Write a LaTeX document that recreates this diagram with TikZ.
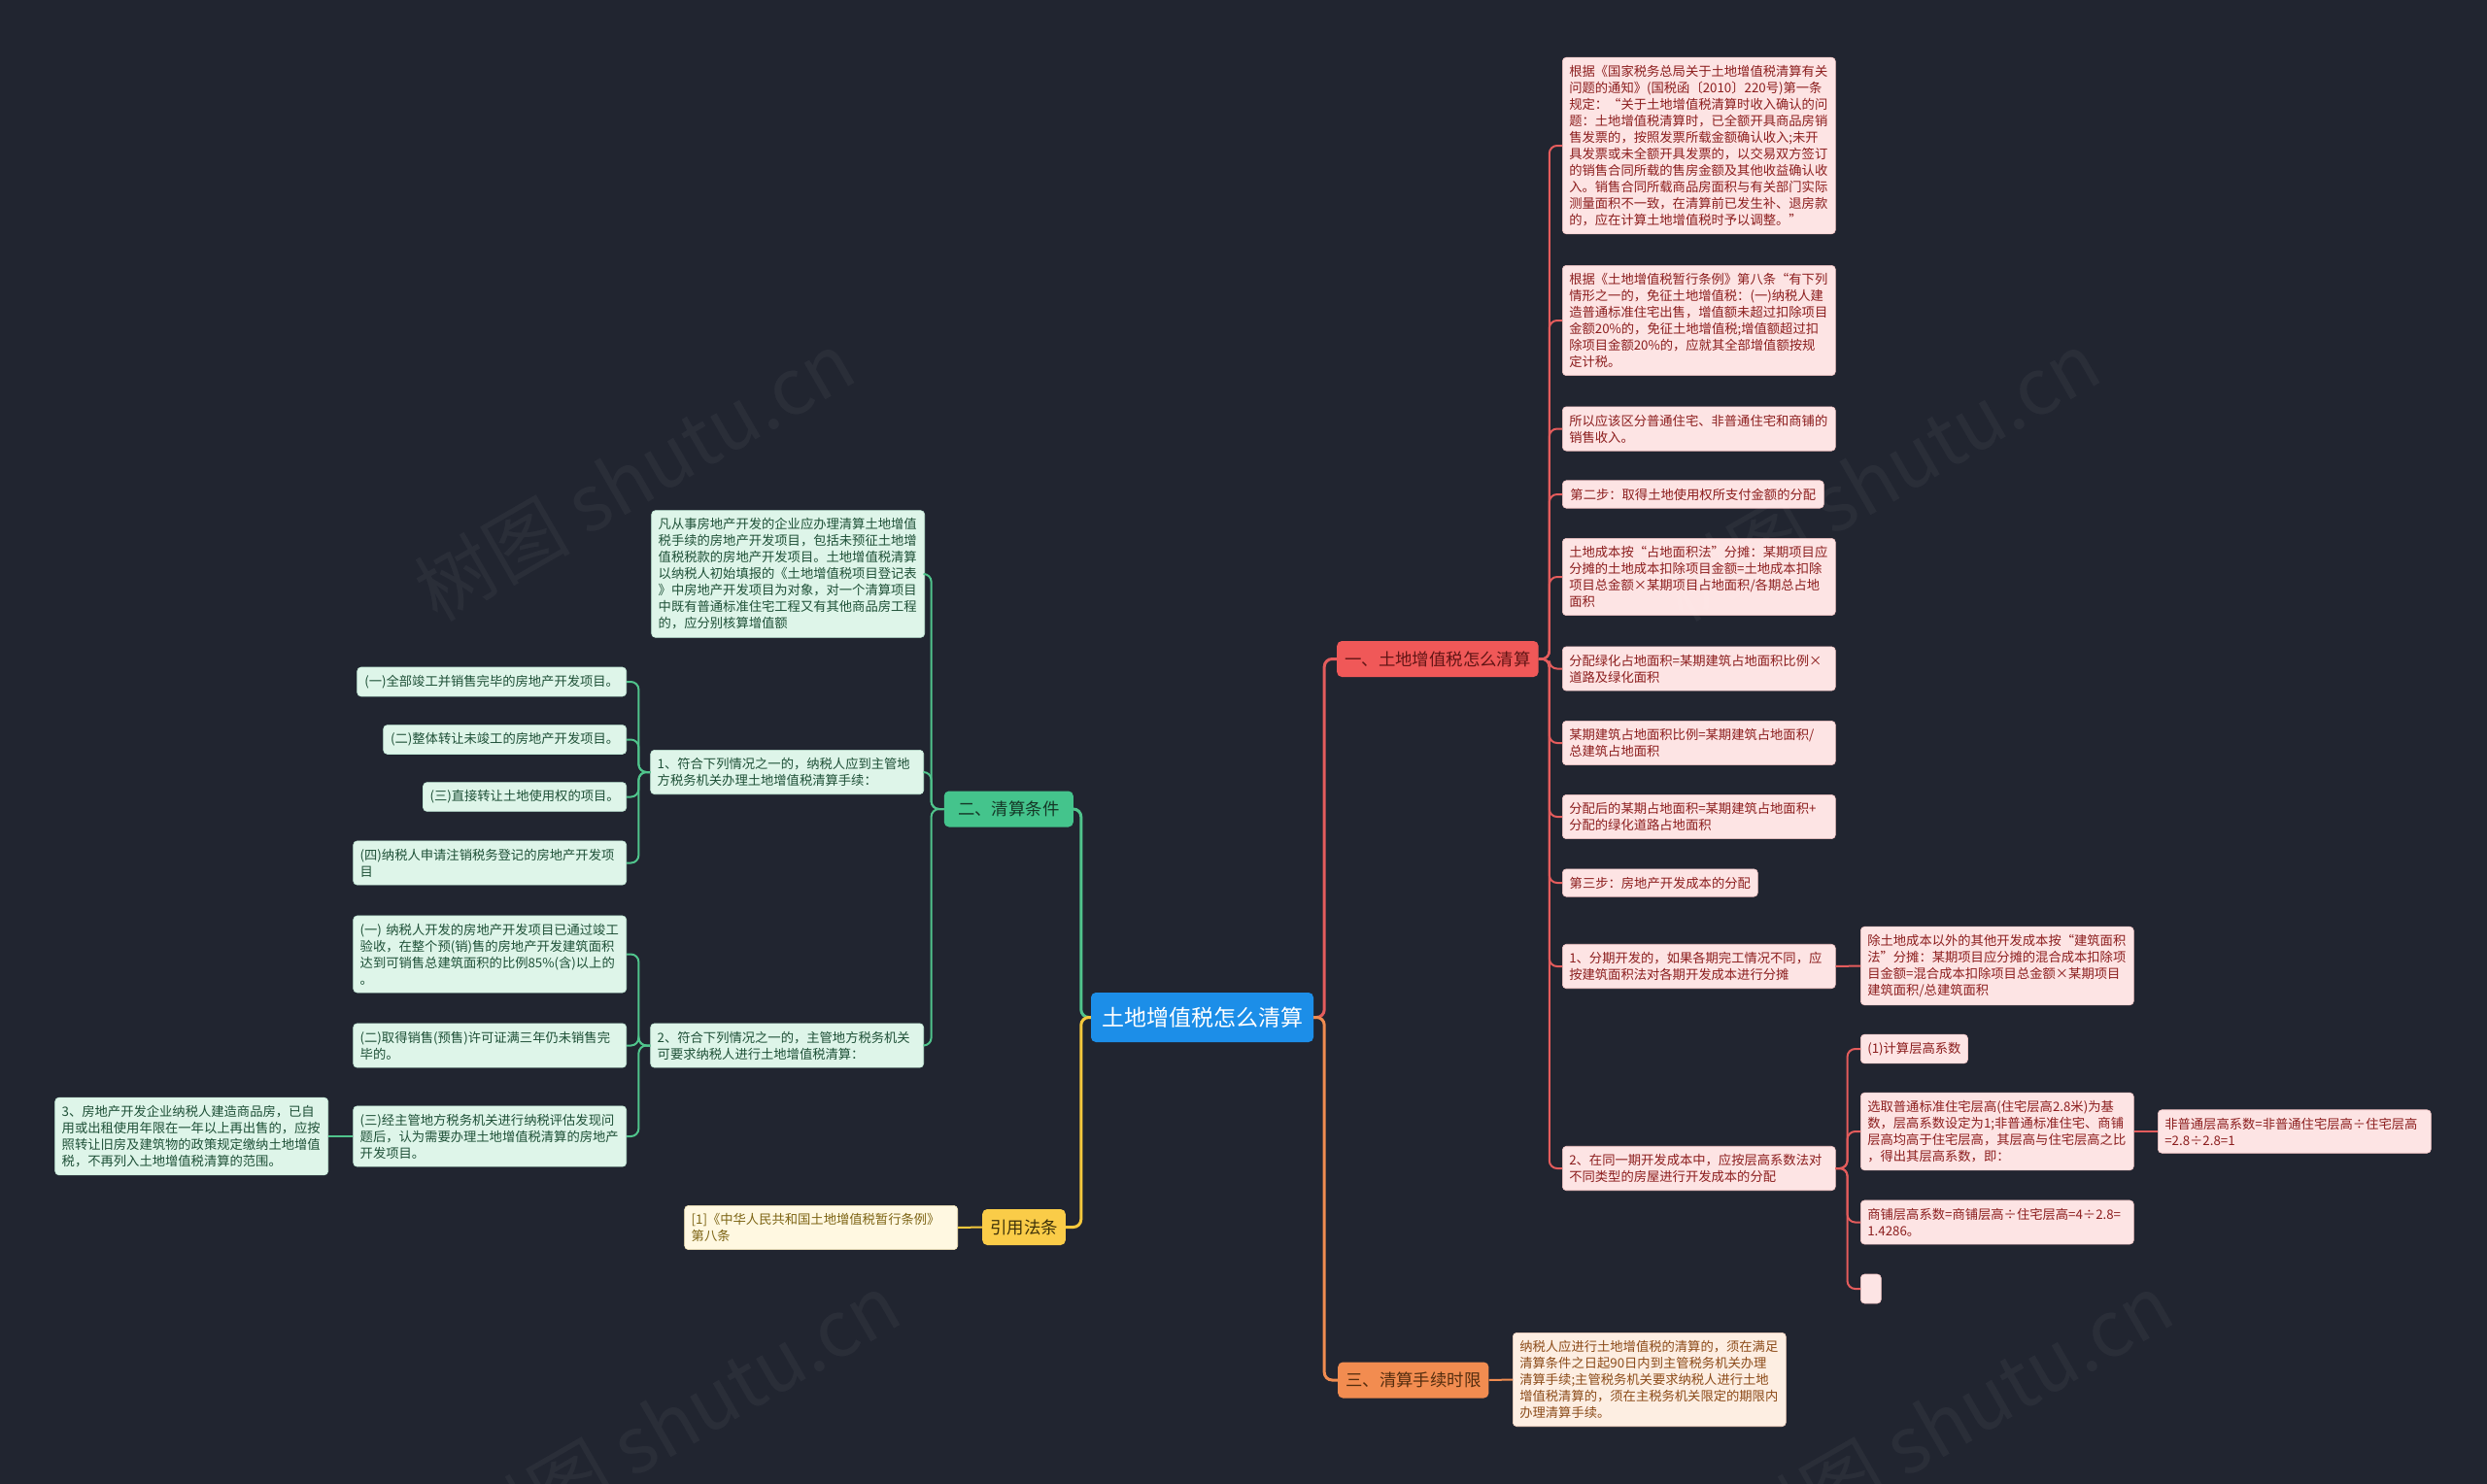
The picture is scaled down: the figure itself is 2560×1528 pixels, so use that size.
\documentclass[tikz,border=0pt]{standalone}
\usepackage{fontspec}
\setmainfont{Noto Sans CJK SC}

\definecolor{bg}{RGB}{33,37,48}
\definecolor{rootc}{RGB}{28,142,232}
\definecolor{rmain}{RGB}{240,88,88}
\definecolor{rline}{RGB}{228,92,92}
\definecolor{rfill}{RGB}{253,228,228}
\definecolor{rtext}{RGB}{140,30,30}
\definecolor{gmain}{RGB}{68,196,140}
\definecolor{gline}{RGB}{80,196,140}
\definecolor{gfill}{RGB}{222,245,233}
\definecolor{gtext}{RGB}{30,80,55}
\definecolor{ymain}{RGB}{250,204,72}
\definecolor{yline}{RGB}{245,200,60}
\definecolor{yfill}{RGB}{255,248,225}
\definecolor{ytext}{RGB}{125,100,20}
\definecolor{omain}{RGB}{242,140,80}
\definecolor{oline}{RGB}{240,140,80}
\definecolor{ofill}{RGB}{253,238,226}
\definecolor{otext}{RGB}{140,75,25}

\newcommand{\leaftxt}{\fontsize{13.3}{17}\selectfont}
\newcommand{\maintxt}{\fontsize{17.4}{20}\selectfont}

\tikzset{
  leaf/.style={rounded corners=4pt, align=left, inner xsep=7pt, inner ysep=8pt, line width=0.6pt, font=\leaftxt},
  bigleaf/.style={leaf, text width=267pt},
  redleaf/.style={fill=rfill, text=rtext, draw=rline!35},
  grnleaf/.style={fill=gfill, text=gtext, draw=gline!35},
  ylwleaf/.style={fill=yfill, text=ytext, draw=yline!35},
  orgleaf/.style={fill=ofill, text=otext, draw=oline!35},
  branch/.style={rounded corners=5pt, font=\maintxt, inner xsep=8pt, minimum height=37pt},
  redln/.style={draw=rline, line width=2pt, rounded corners=8pt},
  grnln/.style={draw=gline, line width=2pt, rounded corners=8pt},
  ylwln/.style={draw=yline, line width=2pt, rounded corners=8pt},
  orgln/.style={draw=oline, line width=2pt, rounded corners=8pt},
  mark wm/.style={rotate=30, text=white, opacity=0.045, font=\fontsize{80}{80}\selectfont}
}

\begin{document}
\begin{tikzpicture}[x=1pt, y=-1pt]
  % fond
  \fill[bg] (0,0) rectangle (2560,1528);
  \useasboundingbox (0,0) rectangle (2560,1528);

  % racine et branches
  \node[fill=rootc, text=white, rounded corners=5pt, font=\fontsize{23}{26}\selectfont,
        minimum width=229pt, minimum height=51pt] (root) at (1237.5,1047.5) {土地增值税怎么清算};
  \node[branch, fill=rmain, text=rtext!70!black, anchor=west] (red) at (1376,678.5) {一、土地增值税怎么清算};
  \node[branch, fill=omain, text=otext!60!black, anchor=west] (org) at (1377,1421) {三、清算手续时限};
  \node[branch, fill=gmain, text=gtext!70!black, anchor=east, minimum width=133pt] (grn) at (1105,833) {二、清算条件};
  \node[branch, fill=ymain, text=ytext!50!black, anchor=east] (ylw) at (1097,1263.5) {引用法条};

  % branche rouge
  \node[bigleaf, redleaf, anchor=west] (r1) at (1608,150) {根据《国家税务总局关于土地增值税清算有关\\问题的通知》(国税函〔2010〕220号)第一条\\规定：“关于土地增值税清算时收入确认的问\\题：土地增值税清算时，已全额开具商品房销\\售发票的，按照发票所载金额确认收入;未开\\具发票或未全额开具发票的，以交易双方签订\\的销售合同所载的售房金额及其他收益确认收\\入。销售合同所载商品房面积与有关部门实际\\测量面积不一致，在清算前已发生补、退房款\\的，应在计算土地增值税时予以调整。”};
  \node[bigleaf, redleaf, anchor=west] (r2) at (1608,330) {根据《土地增值税暂行条例》第八条“有下列\\情形之一的，免征土地增值税：(一)纳税人建\\造普通标准住宅出售，增值额未超过扣除项目\\金额20\%的，免征土地增值税;增值额超过扣\\除项目金额20\%的，应就其全部增值额按规\\定计税。};
  \node[bigleaf, redleaf, anchor=west] (r3) at (1608,441.5) {所以应该区分普通住宅、非普通住宅和商铺的\\销售收入。};
  \node[leaf, redleaf, anchor=west, minimum width=269pt] (r4) at (1608,509) {第二步：取得土地使用权所支付金额的分配};
  \node[bigleaf, redleaf, anchor=west] (r5) at (1608,594) {土地成本按“占地面积法”分摊：某期项目应\\分摊的土地成本扣除项目金额=土地成本扣除\\项目总金额×某期项目占地面积/各期总占地\\面积};
  \node[bigleaf, redleaf, anchor=west] (r6) at (1608,688.5) {分配绿化占地面积=某期建筑占地面积比例×\\道路及绿化面积};
  \node[bigleaf, redleaf, anchor=west] (r7) at (1608,765) {某期建筑占地面积比例=某期建筑占地面积/\\总建筑占地面积};
  \node[bigleaf, redleaf, anchor=west] (r8) at (1608,841) {分配后的某期占地面积=某期建筑占地面积+\\分配的绿化道路占地面积};
  \node[leaf, redleaf, anchor=west, minimum width=201pt] (r9) at (1608,909) {第三步：房地产开发成本的分配};
  \node[bigleaf, redleaf, anchor=west] (r10) at (1608,995) {1、分期开发的，如果各期完工情况不同，应\\按建筑面积法对各期开发成本进行分摊};
  \node[bigleaf, redleaf, anchor=west] (r11) at (1608,1203) {2、在同一期开发成本中，应按层高系数法对\\不同类型的房屋进行开发成本的分配};
  \node[bigleaf, redleaf, anchor=west] (r10a) at (1915,994.5) {除土地成本以外的其他开发成本按“建筑面积\\法”分摊：某期项目应分摊的混合成本扣除项\\目金额=混合成本扣除项目总金额×某期项目\\建筑面积/总建筑面积};
  \node[leaf, redleaf, anchor=west, minimum width=107pt] (r11a) at (1915,1080) {(1)计算层高系数};
  \node[bigleaf, redleaf, anchor=west] (r11b) at (1915,1165) {选取普通标准住宅层高(住宅层高2.8米)为基\\数，层高系数设定为1;非普通标准住宅、商铺\\层高均高于住宅层高，其层高与住宅层高之比\\，得出其层高系数，即：};
  \node[bigleaf, redleaf, anchor=west] (r11c) at (1915,1258.5) {商铺层高系数=商铺层高÷住宅层高=4÷2.8=\\1.4286。};
  \node[leaf, redleaf, anchor=west, inner sep=0pt, minimum width=21pt, minimum height=30pt] (r11d) at (1915,1327) {};
  \node[bigleaf, redleaf, anchor=west] (r11e) at (2221,1165) {非普通层高系数=非普通住宅层高÷住宅层高\\=2.8÷2.8=1};

  \foreach \c in {r1,r2,r3,r4,r5,r6,r7,r8,r9,r10,r11}
    \draw[redln] (red.east) -- ++(11,0) |- (\c.west);
  \foreach \c in {r11a,r11b,r11c,r11d}
    \draw[redln] (r11.east) -- ++(12,0) |- (\c.west);
  \draw[redln] (r10.east) -- (r10a.west);
  \draw[redln] (r11b.east) -- (r11e.west);

  % branche verte
  \node[bigleaf, grnleaf, anchor=east] (g1) at (952,591) {凡从事房地产开发的企业应办理清算土地增值\\税手续的房地产开发项目，包括未预征土地增\\值税税款的房地产开发项目。土地增值税清算\\以纳税人初始填报的《土地增值税项目登记表\\》中房地产开发项目为对象，对一个清算项目\\中既有普通标准住宅工程又有其他商品房工程\\的，应分别核算增值额};
  \node[bigleaf, grnleaf, anchor=east] (g2) at (951,795) {1、符合下列情况之一的，纳税人应到主管地\\方税务机关办理土地增值税清算手续：};
  \node[bigleaf, grnleaf, anchor=east] (g3) at (951,1076.5) {2、符合下列情况之一的，主管地方税务机关\\可要求纳税人进行土地增值税清算：};
  \node[leaf, grnleaf, anchor=east, minimum width=277pt] (g2a) at (645,702) {(一)全部竣工并销售完毕的房地产开发项目。};
  \node[leaf, grnleaf, anchor=east, minimum width=250pt] (g2b) at (645,761.5) {(二)整体转让未竣工的房地产开发项目。};
  \node[leaf, grnleaf, anchor=east, minimum width=209pt] (g2c) at (645,820.5) {(三)直接转让土地使用权的项目。};
  \node[bigleaf, grnleaf, anchor=east] (g2d) at (645,888.5) {(四)纳税人申请注销税务登记的房地产开发项\\目};
  \node[bigleaf, grnleaf, anchor=east] (g3a) at (645,982.5) {(一) 纳税人开发的房地产开发项目已通过竣工\\验收，在整个预(销)售的房地产开发建筑面积\\达到可销售总建筑面积的比例85\%(含)以上的\\。};
  \node[bigleaf, grnleaf, anchor=east] (g3b) at (645,1076.5) {(二)取得销售(预售)许可证满三年仍未销售完\\毕的。};
  \node[bigleaf, grnleaf, anchor=east] (g3c) at (645,1170) {(三)经主管地方税务机关进行纳税评估发现问\\题后，认为需要办理土地增值税清算的房地产\\开发项目。};
  \node[bigleaf, grnleaf, anchor=east] (g3d) at (338,1170) {3、房地产开发企业纳税人建造商品房，已自\\用或出租使用年限在一年以上再出售的，应按\\照转让旧房及建筑物的政策规定缴纳土地增值\\税，不再列入土地增值税清算的范围。};

  \foreach \c in {g1,g2,g3}
    \draw[grnln] (grn.west) -- ++(-13,0) |- (\c.east);
  \foreach \c in {g2a,g2b,g2c,g2d}
    \draw[grnln] (g2.west) -- ++(-12,0) |- (\c.east);
  \foreach \c in {g3a,g3b,g3c}
    \draw[grnln] (g3.west) -- ++(-12,0) |- (\c.east);
  \draw[grnln] (g3c.west) -- (g3d.east);

  % branches jaune et orange
  \node[bigleaf, ylwleaf, anchor=east] (y1) at (986,1264) {[1]《中华人民共和国土地增值税暂行条例》\\第八条};
  \node[bigleaf, orgleaf, anchor=west] (o1) at (1557,1420.5) {纳税人应进行土地增值税的清算的，须在满足\\清算条件之日起90日内到主管税务机关办理\\清算手续;主管税务机关要求纳税人进行土地\\增值税清算的，须在主税务机关限定的期限内\\办理清算手续。};
  \draw[ylwln] (ylw.west) -- (y1.east);
  \draw[orgln] (org.east) -- (o1.west);

  % liaisons depuis la racine
  \draw[redln, line width=3pt] (root.east) -- ++(11,0) |- (red.west);
  \draw[orgln, line width=3pt] (root.east) -- ++(11,0) |- (org.west);
  \draw[grnln, line width=3pt] (root.west) -- ++(-10,0) |- (grn.east);
  \draw[ylwln, line width=3pt] (root.west) -- ++(-10,0) |- (ylw.east);

  % filigrane
  \begin{scope}
    \clip (0,0) rectangle (2560,1528);
    \node[mark wm] (wm1) at (653,490) {树图 shutu.cn};
    \node[mark wm] (wm2) at (1935,490) {树图 shutu.cn};
    \node[mark wm] (wm3) at (700,1460) {树图 shutu.cn};
    \node[mark wm] (wm4) at (2010,1460) {树图 shutu.cn};
  \end{scope}
\end{tikzpicture}
\end{document}
